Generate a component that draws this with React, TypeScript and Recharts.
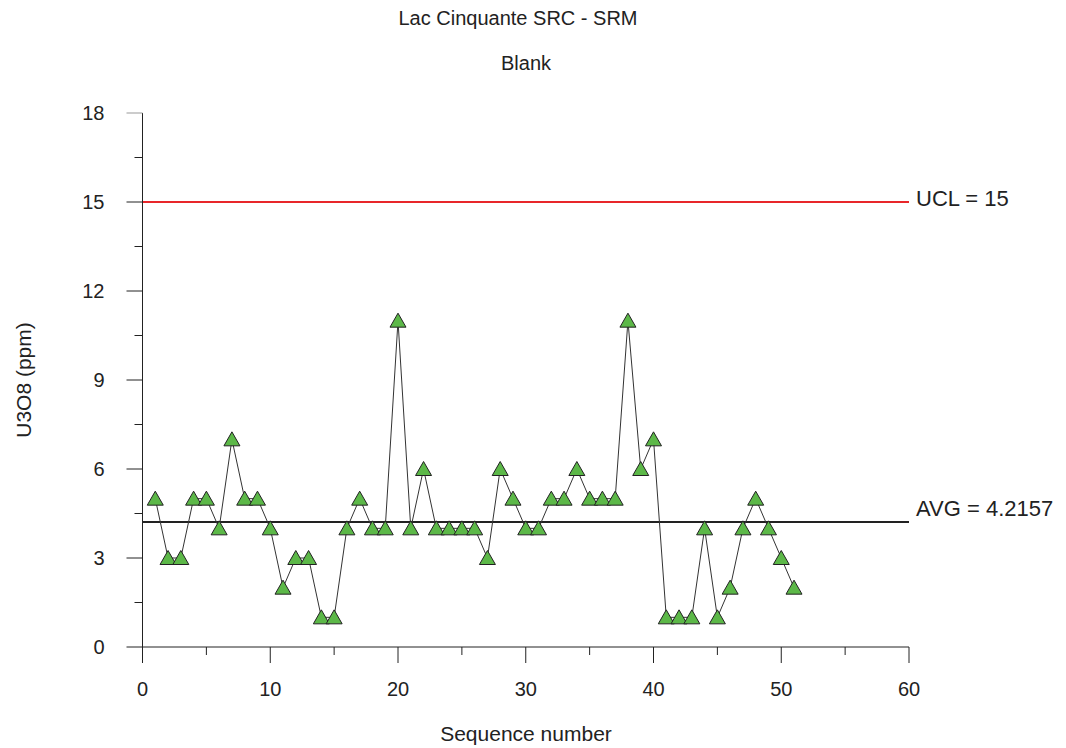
import { LineChart, Line, XAxis, YAxis, ReferenceLine } from "recharts";

const sequence = [
  1, 2, 3, 4, 5, 6, 7, 8, 9, 10, 11, 12, 13, 14, 15, 16, 17, 18, 19, 20, 21, 22, 23, 24, 25, 26,
  27, 28, 29, 30, 31, 32, 33, 34, 35, 36, 37, 38, 39, 40, 41, 42, 43, 44, 45, 46, 47, 48, 49, 50, 51,
];
const u3o8 = [
  5, 3, 3, 5, 5, 4, 7, 5, 5, 4, 2, 3, 3, 1, 1, 4, 5, 4, 4, 11, 4, 6, 4, 4, 4, 4,
  3, 6, 5, 4, 4, 5, 5, 6, 5, 5, 5, 11, 6, 7, 1, 1, 1, 4, 1, 2, 4, 5, 4, 3, 2,
];
const xTicks = [0, 5, 10, 15, 20, 25, 30, 35, 40, 45, 50, 55, 60];
const yTicks = [0, 1.5, 3, 4.5, 6, 7.5, 9, 10.5, 12, 13.5, 15, 16.5, 18];
const UCL = 15;

const data = sequence.map((s, i) => ({ seq: s, value: u3o8[i] }));
const avg = u3o8.reduce((a, b) => a + b, 0) / u3o8.length;

const FONT = "'Liberation Sans', Arial, sans-serif";

// y tick: x,y is end of the major tick (left side)
const YTick = (props: any) => {
  const { x, y, payload } = props;
  const major = payload.value % 3 === 0;
  return (
    <g>
      <line x1={major ? x : x + 8} y1={y} x2={x + 16} y2={y} stroke={payload.value === 18 ? "#999" : "#222"} strokeWidth={1} />
      {major && (
        <text x={x - 22} y={y} dy="0.36em" textAnchor="end" fontSize={20} fill="#222" fontFamily={FONT}>
          {payload.value}
        </text>
      )}
    </g>
  );
};

const XTick = (props: any) => {
  const { x, y, payload } = props;
  const major = payload.value % 10 === 0;
  return (
    <g>
      <line x1={x} y1={y - 16} x2={x} y2={major ? y : y - 8} stroke="#222" strokeWidth={1} />
      {major && (
        <text x={x} y={y + 33} textAnchor="middle" fontSize={20} fill="#222" fontFamily={FONT}>
          {payload.value}
        </text>
      )}
    </g>
  );
};

const Triangle = (props: any) => {
  const { cx, cy, index } = props;
  if (cx == null || cy == null) return <g key={index} />;
  return (
    <polygon
      key={index}
      points={`${cx},${cy - 7.5} ${cx + 8},${cy + 6.5} ${cx - 8},${cy + 6.5}`}
      fill="#5cb848"
      stroke="#222"
      strokeWidth={1}
    />
  );
};

const sideLabel = (text: string, dy: number) => (props: any) => {
  const { viewBox } = props;
  return (
    <text x={viewBox.x + viewBox.width + 7} y={viewBox.y + dy} fontSize={22} fill="#222" fontFamily={FONT}>
      {text}
    </text>
  );
};

export default function App() {
  return (
    <div style={{ position: "absolute", left: 0, top: 0, width: 1066, height: 748, background: "#fff" }}>
      <LineChart width={1066} height={748} data={data} margin={{ top: 113, right: 157, bottom: 41, left: 82.5 }}>
        <XAxis
          dataKey="seq"
          type="number"
          domain={[0, 60]}
          ticks={xTicks}
          interval={0}
          height={60}
          tickSize={16}
          tickMargin={0}
          tickLine={false}
          tick={<XTick />}
          axisLine={{ stroke: "#222" }}
        />
        <XAxis xAxisId="top" orientation="top" type="number" domain={[0, 60]} height={0} tick={false} tickLine={false} axisLine={{ stroke: "#999" }} />
        <YAxis
          domain={[0, 18]}
          ticks={yTicks}
          interval={0}
          width={60}
          tickSize={16}
          tickMargin={0}
          tickLine={false}
          tick={<YTick />}
          axisLine={{ stroke: "#222" }}
        />
        <YAxis yAxisId="right" orientation="right" domain={[0, 18]} width={0} tick={false} tickLine={false} axisLine={{ stroke: "#222", strokeWidth: 1.5 }} />
        <ReferenceLine y={UCL} stroke="#e8262a" strokeWidth={2} label={sideLabel(`UCL = ${UCL}`, 4)} />
        <ReferenceLine y={avg} stroke="#222" strokeWidth={2} label={sideLabel(`AVG = ${avg.toFixed(4)}`, -6)} />
        <Line
          type="linear"
          dataKey="value"
          stroke="#333"
          strokeWidth={1}
          dot={Triangle}
          activeDot={false}
          isAnimationActive={false}
        />
        <text x={518} y={25} textAnchor="middle" fontSize={20} fill="#222" fontFamily={FONT}>
          Lac Cinquante SRC - SRM
        </text>
        <text x={526} y={70} textAnchor="middle" fontSize={20} fill="#222" fontFamily={FONT}>
          Blank
        </text>
        <text x={526} y={741} textAnchor="middle" fontSize={21} fill="#222" fontFamily={FONT}>
          Sequence number
        </text>
        <text x={23} y={380} textAnchor="middle" fontSize={21} fill="#222" fontFamily={FONT} transform="rotate(-90 23 380)" dy="0.36em">
          U3O8 (ppm)
        </text>
      </LineChart>
    </div>
  );
}
